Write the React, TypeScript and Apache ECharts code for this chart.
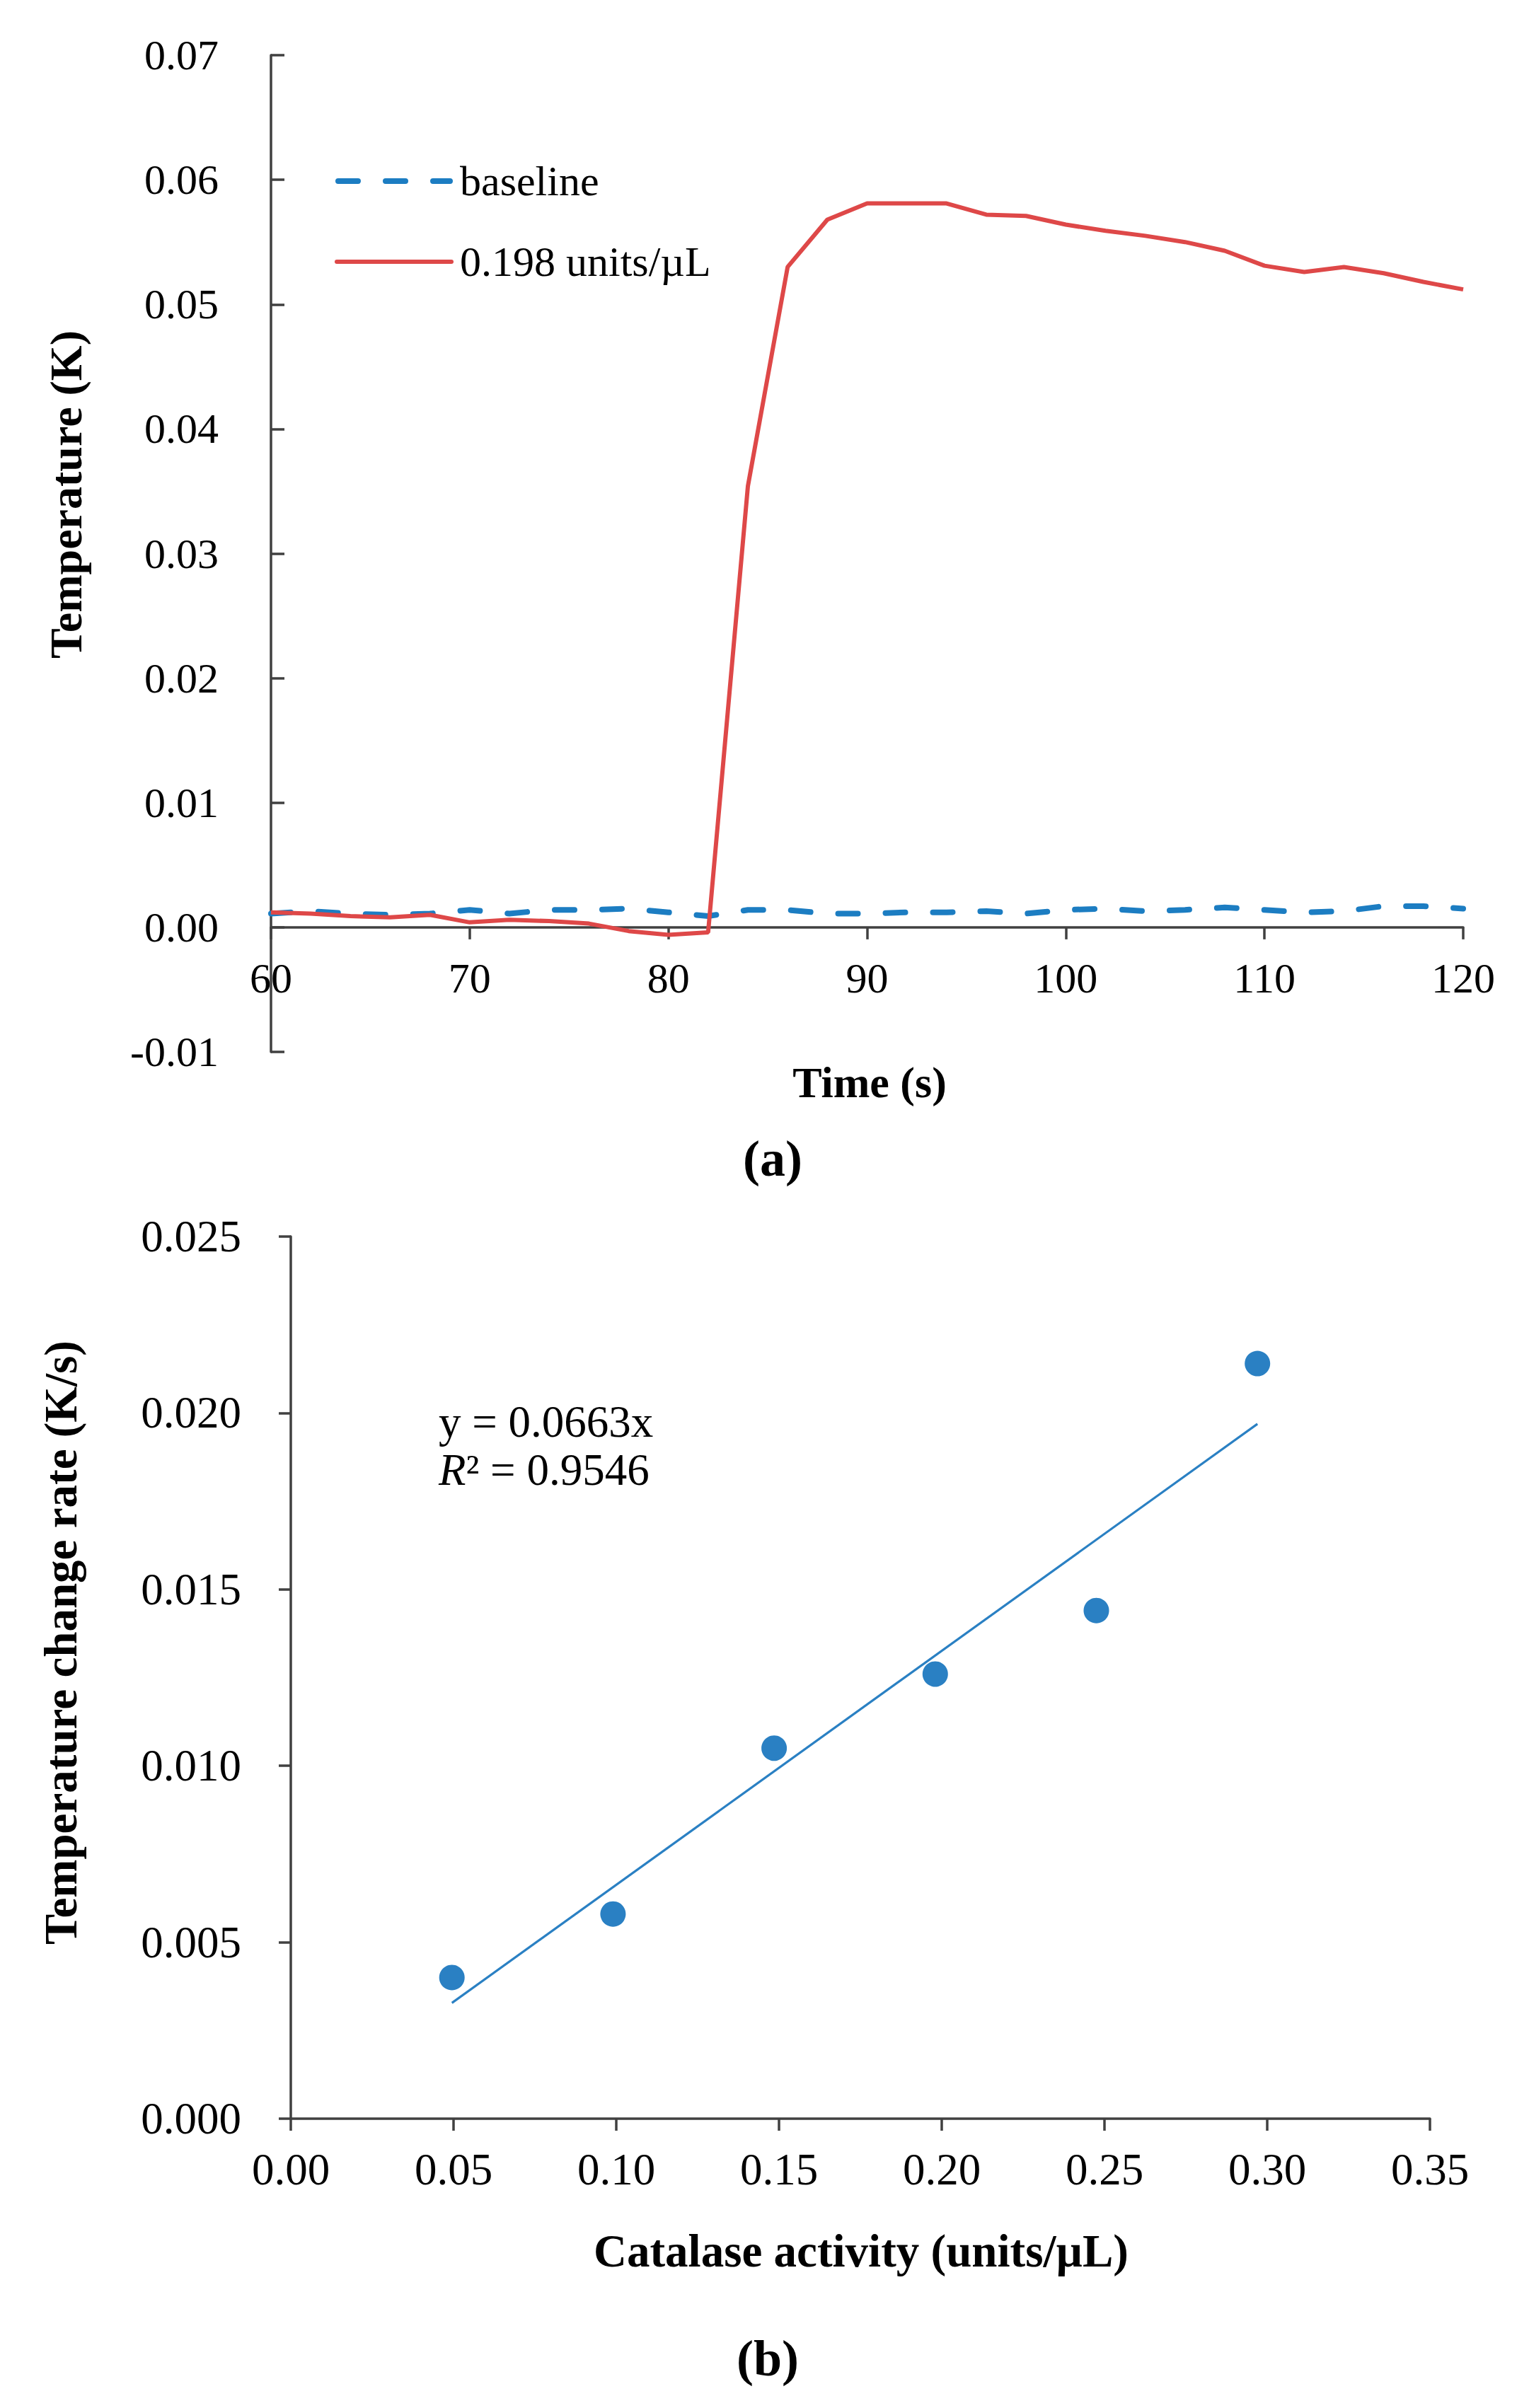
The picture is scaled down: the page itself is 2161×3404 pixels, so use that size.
import React, { useEffect, useRef } from "react";
import * as echarts from "echarts";

// ---- Panel (a) data ----
const timeS = [60, 62, 64, 66, 68, 70, 72, 74, 76, 78, 80, 82, 84, 86, 88, 90, 92, 94, 96, 98, 100, 102, 104, 106, 108, 110, 112, 114, 116, 118, 120];
const baselineK = [0.0011, 0.0013, 0.0011, 0.0010, 0.0011, 0.0014, 0.0011, 0.0014, 0.0014, 0.0015, 0.0012, 0.0009, 0.0014, 0.0014, 0.0011, 0.0011, 0.0012, 0.0012, 0.0013, 0.0011, 0.0014, 0.0015, 0.0013, 0.0014, 0.0016, 0.0014, 0.0012, 0.0013, 0.0017, 0.0017, 0.0015];
const activeK = [0.0012, 0.0011, 0.0009, 0.0008, 0.0010, 0.0004, 0.0006, 0.0005, 0.0003, -0.0003, -0.0006, -0.0004, 0.0354, 0.0530, 0.0568, 0.0581, 0.0581, 0.0581, 0.0572, 0.0571, 0.0564, 0.0559, 0.0555, 0.0550, 0.0543, 0.0531, 0.0526, 0.0530, 0.0525, 0.0518, 0.0512];
const seriesNamesA = ["baseline", "0.198 units/\u00B5L"];
const yMinA = -0.01;
const yMaxA = 0.07;

// ---- Panel (b) data ----
const catalaseX = [0.0495, 0.099, 0.1485, 0.198, 0.2475, 0.297];
const rateY = [0.0040, 0.0058, 0.0105, 0.0126, 0.0144, 0.0214];
const trendX = [0.0495, 0.297];
const trendY = [0.00328, 0.01969];
const equationText = "y = 0.0663x";
const r2Text = "\u00B2 = 0.9546";

const FONT = "'Liberation Serif', 'Times New Roman', serif";
const AXIS = "#404040";
const BLUE = "#1C7DC2";
const RED = "#DE4848";
const DOT = "#2A80C3";

const gridA = { left: 383, top: 78, width: 1685, height: 1409 };
const gridB = { left: 411, top: 1748, width: 1610, height: 1247 };

const BLUE_DASH = [28, 39];

export default function App() {
  const ref = useRef<HTMLDivElement>(null);
  useEffect(() => {
    if (!ref.current) return;
    const chart = echarts.init(ref.current, undefined, { renderer: "svg" });
    const tickLabelA = { color: "#000", fontFamily: FONT, fontSize: 60 };
    const tickLabelB = { color: "#000", fontFamily: FONT, fontSize: 63 };
    const axisLine = { show: true, lineStyle: { color: AXIS, width: 3.5 } };
    const tickStyle = { color: AXIS, width: 3.5 };
    // x axis of panel (a) sits on the zero line of its y axis
    const zeroOffset = -gridA.height * (0 - yMinA) / (yMaxA - yMinA);
    const legendY0 = 256;
    const legendY1 = 370;
    const option: any = {
      animation: false,
      backgroundColor: "#fff",
      textStyle: { fontFamily: FONT },
      grid: [gridA, gridB],
      xAxis: [
        {
          gridIndex: 0,
          type: "value",
          min: 60,
          max: 120,
          interval: 10,
          offset: zeroOffset,
          axisLine: { ...axisLine, onZero: false },
          axisTick: { show: true, length: 17, lineStyle: tickStyle },
          axisLabel: { ...tickLabelA, margin: 42 },
          splitLine: { show: false },
        },
        {
          gridIndex: 1,
          type: "value",
          min: 0,
          max: 0.35,
          interval: 0.05,
          axisLine: axisLine,
          axisTick: { show: true, length: 17, lineStyle: tickStyle },
          axisLabel: { ...tickLabelB, margin: 40, formatter: (v: number) => v.toFixed(2) },
          splitLine: { show: false },
        },
      ],
      yAxis: [
        {
          gridIndex: 0,
          type: "value",
          min: yMinA,
          max: yMaxA,
          interval: 0.01,
          axisLine: axisLine,
          axisTick: { show: true, inside: true, length: 19, lineStyle: tickStyle },
          axisLabel: { ...tickLabelA, margin: 74, formatter: (v: number) => (Math.abs(v) < 1e-9 ? "0.00" : v.toFixed(2)) },
          splitLine: { show: false },
        },
        {
          gridIndex: 1,
          type: "value",
          min: 0,
          max: 0.025,
          interval: 0.005,
          axisLine: axisLine,
          axisTick: { show: true, length: 17, lineStyle: tickStyle },
          axisLabel: { ...tickLabelB, margin: 70, formatter: (v: number) => v.toFixed(3) },
          splitLine: { show: false },
        },
      ],
      series: [
        {
          name: seriesNamesA[0],
          type: "line",
          xAxisIndex: 0,
          yAxisIndex: 0,
          data: timeS.map((t, i) => [t, baselineK[i]]),
          showSymbol: false,
          symbol: "none",
          lineStyle: { color: BLUE, width: 8, type: BLUE_DASH, cap: "round" },
          itemStyle: { color: BLUE },
        },
        {
          name: seriesNamesA[1],
          type: "line",
          xAxisIndex: 0,
          yAxisIndex: 0,
          data: timeS.map((t, i) => [t, activeK[i]]),
          showSymbol: false,
          symbol: "none",
          lineStyle: { color: RED, width: 6 },
          itemStyle: { color: RED },
        },
        {
          name: "trend",
          type: "line",
          xAxisIndex: 1,
          yAxisIndex: 1,
          data: trendX.map((x, i) => [x, trendY[i]]),
          showSymbol: false,
          symbol: "none",
          lineStyle: { color: DOT, width: 3.2 },
        },
        {
          name: "rate",
          type: "scatter",
          xAxisIndex: 1,
          yAxisIndex: 1,
          data: catalaseX.map((x, i) => [x, rateY[i]]),
          symbol: "circle",
          symbolSize: 36,
          itemStyle: { color: DOT, opacity: 1 },
        },
      ],
      graphic: [
        // legend of panel (a)
        {
          type: "line",
          shape: { x1: 478, y1: legendY0, x2: 636, y2: legendY0 },
          style: { stroke: BLUE, lineWidth: 8, lineDash: BLUE_DASH, lineCap: "round" },
        },
        {
          type: "text",
          x: 650,
          y: legendY0,
          style: { text: seriesNamesA[0], font: `60px ${FONT}`, fill: "#000", align: "left", verticalAlign: "middle" },
        },
        {
          type: "line",
          shape: { x1: 476, y1: legendY1, x2: 638, y2: legendY1 },
          style: { stroke: RED, lineWidth: 6, lineCap: "round" },
        },
        {
          type: "text",
          x: 650,
          y: legendY1,
          style: { text: seriesNamesA[1], font: `60px ${FONT}`, fill: "#000", align: "left", verticalAlign: "middle" },
        },
        // axis titles and panel labels
        {
          type: "text",
          x: 93,
          y: 699,
          rotation: Math.PI / 2,
          style: { text: "Temperature (K)", font: `bold 64px ${FONT}`, fill: "#000", align: "center", verticalAlign: "middle" },
        },
        {
          type: "text",
          x: 1229,
          y: 1530,
          style: { text: "Time (s)", font: `bold 62px ${FONT}`, fill: "#000", align: "center", verticalAlign: "middle" },
        },
        {
          type: "text",
          x: 1092,
          y: 1638,
          style: { text: "(a)", font: `bold 72px ${FONT}`, fill: "#000", align: "center", verticalAlign: "middle" },
        },
        {
          type: "text",
          x: 86,
          y: 2322,
          rotation: Math.PI / 2,
          style: { text: "Temperature change rate (K/s)", font: `bold 65px ${FONT}`, fill: "#000", align: "center", verticalAlign: "middle" },
        },
        {
          type: "text",
          x: 1217,
          y: 3182,
          style: { text: "Catalase activity (units/\u00B5L)", font: `bold 65px ${FONT}`, fill: "#000", align: "center", verticalAlign: "middle" },
        },
        {
          type: "text",
          x: 1085,
          y: 3334,
          style: { text: "(b)", font: `bold 72px ${FONT}`, fill: "#000", align: "center", verticalAlign: "middle" },
        },
        // trend line equation
        {
          type: "text",
          x: 620,
          y: 2010,
          style: { text: equationText, font: `63px ${FONT}`, fill: "#000", align: "left", verticalAlign: "middle" },
        },
        {
          type: "text",
          x: 620,
          y: 2078,
          style: {
            text: "{i|R}{n|" + r2Text + "}",
            fill: "#000",
            align: "left",
            verticalAlign: "middle",
            rich: {
              i: { fontFamily: FONT, fontSize: 63, fontStyle: "italic", fill: "#000" },
              n: { fontFamily: FONT, fontSize: 63, fill: "#000" },
            },
          },
        },
      ],
    };
    chart.setOption(option);
    return () => chart.dispose();
  }, []);
  return (
    <div
      ref={ref}
      style={{ position: "absolute", left: 0, top: 0, width: 2161, height: 3404, background: "#fff" }}
    />
  );
}
